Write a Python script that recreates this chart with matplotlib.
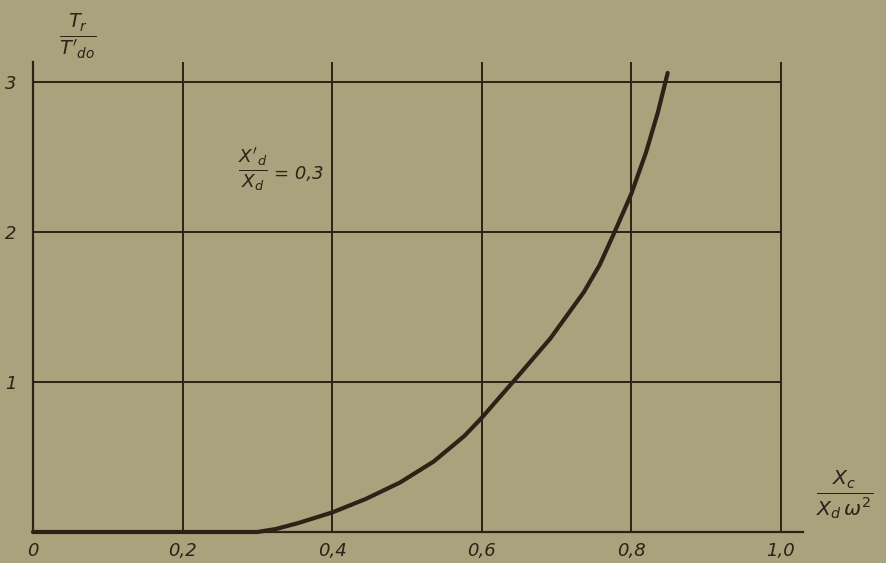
import matplotlib
matplotlib.use("Agg")
import matplotlib.pyplot as plt

# Data
x_vals = [0.0, 0.20, 0.30, 0.325, 0.355, 0.40, 0.445, 0.491, 0.536, 0.577, 0.60, 0.642,
          0.692, 0.737, 0.758, 0.778, 0.80, 0.820, 0.836, 0.849]
y_vals = [0.0, 0.0, 0.0, 0.02, 0.06, 0.13, 0.22, 0.33, 0.47, 0.64, 0.76, 1.0,
          1.29, 1.60, 1.78, 2.0, 2.25, 2.53, 2.80, 3.06]
x_ticks = [0.0, 0.2, 0.4, 0.6, 0.8, 1.0]
x_ticklabels = ["0", "0,2", "0,4", "0,6", "0,8", "1,0"]
y_ticks = [1, 2, 3]
y_ticklabels = ["1", "2", "3"]

bg = "#aaa17d"
ink = "#2a2316"

plt.rcParams["mathtext.fontset"] = "dejavusans"

fig = plt.figure(figsize=(8.86, 5.63), dpi=100, facecolor=bg)
W, H = 886, 563
left_px, right_px = 33, 803
bottom_px, top_px = 532, 62
ax = fig.add_axes([left_px / W, (H - bottom_px) / H, (right_px - left_px) / W, (bottom_px - top_px) / H])
ax.set_facecolor(bg)
ax.set_xlim(0, 1.03)
ax.set_ylim(0, 3.133)

for s in ["top", "right"]:
    ax.spines[s].set_visible(False)
for s in ["left", "bottom"]:
    ax.spines[s].set_color(ink)
    ax.spines[s].set_linewidth(1.6)

# grid
ax.hlines(y_ticks, 0, 1.0, color=ink, lw=1.4)
ax.vlines(x_ticks[1:], 0, 3.133, color=ink, lw=1.4)

ax.plot(x_vals, y_vals, color=ink, lw=3.0, solid_capstyle="round",
        solid_joinstyle="round", clip_on=False)

ax.set_xticks(x_ticks)
ax.set_xticklabels(x_ticklabels)
ax.set_yticks(y_ticks)
ax.set_yticklabels(y_ticklabels)
ax.tick_params(length=0, colors=ink, labelsize=13)
for lab in ax.get_xticklabels() + ax.get_yticklabels():
    lab.set_fontstyle("italic")
    lab.set_color(ink)
ax.tick_params(axis="x", pad=7)
ax.tick_params(axis="y", pad=12)

fig.text(78 / W, 1 - 36 / H, r"$\frac{T_r}{T'_{do}}$", fontsize=20, color=ink, ha="center", va="center")
fig.text(253 / W, 1 - 170 / H, r"$\frac{X'_d}{X_d}$", fontsize=19, color=ink, ha="center", va="center")
fig.text(274 / W, 1 - 174 / H, "= 0,3", fontsize=13, fontstyle="italic", color=ink, ha="left", va="center")
fig.text(845 / W, 1 - 495 / H, r"$\frac{X_c}{X_d\,\omega^2}$", fontsize=21, color=ink, ha="center", va="center")

fig.savefig("out.png", dpi=100, facecolor=bg)
